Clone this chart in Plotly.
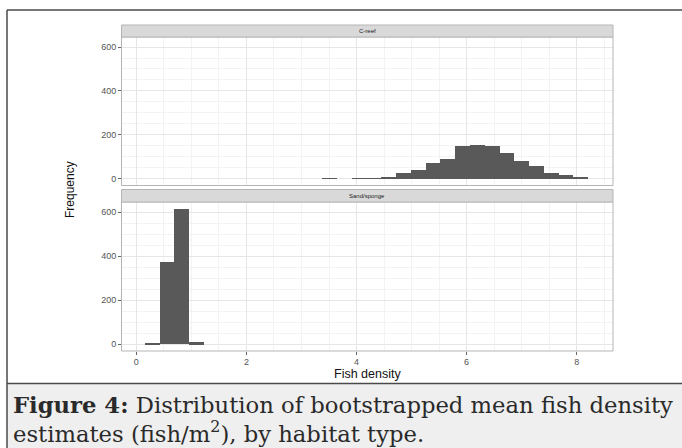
import plotly.graph_objects as go

# ---- data ----
habitats = ["C-reef", "Sand/sponge"]
bin_start = 0.145
bin_width = 0.2685
creef_counts = [0, 0, 0, 0, 0, 0, 0, 0, 0, 0, 0, 0, 1, 0, 1, 2,
                7, 24, 39, 71, 90, 147, 153, 150, 116, 80, 60, 27, 17, 8]
sand_counts = [2, 375, 615, 8, 0, 0, 0, 0, 0, 0, 0, 0, 0, 0, 0, 0,
               0, 0, 0, 0, 0, 0, 0, 0, 0, 0, 0, 0, 0, 0]
x_ticks = [0, 2, 4, 6, 8]
y_ticks = [0, 200, 400, 600]

centers = [bin_start + bin_width * (i + 0.5) for i in range(len(creef_counts))]

W, H = 682, 448
def px(x):
    return x / W
def py(y):
    return 1 - y / H

# panel pixel geometry
PL, PR = 121.5, 613
P1T, P1B = 37, 185.5
S1T = 25
P2T, P2B = 202, 351
S2T = 189.5

bar_color = "#595959"
fig = go.Figure()
fig.add_trace(go.Bar(x=centers, y=creef_counts, width=bin_width, marker=dict(color=bar_color, line=dict(width=0)),
                     xaxis="x", yaxis="y", showlegend=False, hoverinfo="skip"))
fig.add_trace(go.Bar(x=centers, y=sand_counts, width=bin_width, marker=dict(color=bar_color, line=dict(width=0)),
                     xaxis="x2", yaxis="y2", showlegend=False, hoverinfo="skip"))

xr = [-0.27, 8.66]
yr = [-30.75, 645.75]
tickfont = dict(family="Liberation Sans, Arial, sans-serif", size=9, color="#555555")
grid = dict(showline=False, zeroline=False, gridcolor="#e6e6e6", gridwidth=1,
            minor=dict(showgrid=True, gridcolor="#f3f3f3", gridwidth=1), tickfont=tickfont)
tk = dict(ticks="outside", ticklen=2.5, tickcolor="#666", tickwidth=1)

fig.update_layout(
    width=W, height=H, margin=dict(l=0, r=0, t=0, b=0),
    paper_bgcolor="white", plot_bgcolor="white", bargap=0,
    xaxis=dict(domain=[px(PL), px(PR)], anchor="y", range=xr, tickvals=x_ticks, showticklabels=False,
               ticks="", **grid),
    yaxis=dict(domain=[py(P1B), py(P1T)], anchor="x", range=yr, tickvals=y_ticks, **grid, **tk),
    xaxis2=dict(domain=[px(PL), px(PR)], anchor="y2", range=xr, tickvals=x_ticks, matches="x", **grid, **tk),
    yaxis2=dict(domain=[py(P2B), py(P2T)], anchor="x2", range=yr, tickvals=y_ticks, **grid, **tk),
)

shapes = []
# panel borders and strips
for (top, bot, stop) in [(P1T, P1B, S1T), (P2T, P2B, S2T)]:
    shapes.append(dict(type="rect", xref="paper", yref="paper", x0=px(PL), x1=px(PR), y0=py(bot), y1=py(top),
                       line=dict(color="#b5b5b5", width=1), fillcolor="rgba(0,0,0,0)", layer="above"))
    shapes.append(dict(type="rect", xref="paper", yref="paper", x0=px(PL), x1=px(PR), y0=py(top), y1=py(stop),
                       line=dict(color="#b5b5b5", width=1), fillcolor="#d9d9d9", layer="above"))
# caption box
shapes.append(dict(type="rect", xref="paper", yref="paper", x0=px(7), x1=1.01, y0=-0.01, y1=py(384),
                   line=dict(width=0), fillcolor="#efefef", layer="below"))
# frame lines
frame = dict(color="#4a4a4a", width=1.5)
shapes.append(dict(type="line", xref="paper", yref="paper", x0=px(7), x1=1.0, y0=py(10), y1=py(10), line=frame))
shapes.append(dict(type="line", xref="paper", yref="paper", x0=px(7), x1=px(7), y0=py(10), y1=0, line=frame))
shapes.append(dict(type="line", xref="paper", yref="paper", x0=px(7), x1=1.0, y0=py(383.5), y1=py(383.5), line=frame))
fig.update_layout(shapes=shapes)

strip_font = dict(family="Liberation Sans, Arial, sans-serif", size=6, color="#1a1a1a")
cap_font = dict(family="DejaVu Serif, serif", size=22.7, color="#2a2a2a")
ann = [
    dict(text=habitats[0], x=px((PL + PR) / 2), y=py((S1T + P1T) / 2), xref="paper", yref="paper",
         showarrow=False, font=strip_font, xanchor="center", yanchor="middle"),
    dict(text=habitats[1], x=px((PL + PR) / 2), y=py((S2T + P2T) / 2), xref="paper", yref="paper",
         showarrow=False, font=strip_font, xanchor="center", yanchor="middle"),
    dict(text="Frequency", x=px(70), y=py(190), xref="paper", yref="paper", textangle=-90,
         showarrow=False, font=dict(family="Liberation Sans, Arial, sans-serif", size=12, color="#111"),
         xanchor="center", yanchor="middle"),
    dict(text="Fish density", x=px(367), y=py(373.5), xref="paper", yref="paper",
         showarrow=False, font=dict(family="Liberation Sans, Arial, sans-serif", size=12.5, color="#111"),
         xanchor="center", yanchor="middle"),
    dict(text="<b>Figure 4:</b> Distribution of bootstrapped mean fish density", x=px(11), y=py(405),
         xref="paper", yref="paper", showarrow=False, xanchor="left", yanchor="middle", font=cap_font),
    dict(text="estimates (fish/m<sup>2</sup>), by habitat type.",
         x=px(11), y=py(431.5),
         xref="paper", yref="paper", showarrow=False, xanchor="left", yanchor="middle", font=cap_font),
]
fig.update_layout(annotations=ann)

fig.write_html("out.html", config={"displayModeBar": False},
               post_script="document.body.style.margin='0';document.body.style.overflow='hidden';")
